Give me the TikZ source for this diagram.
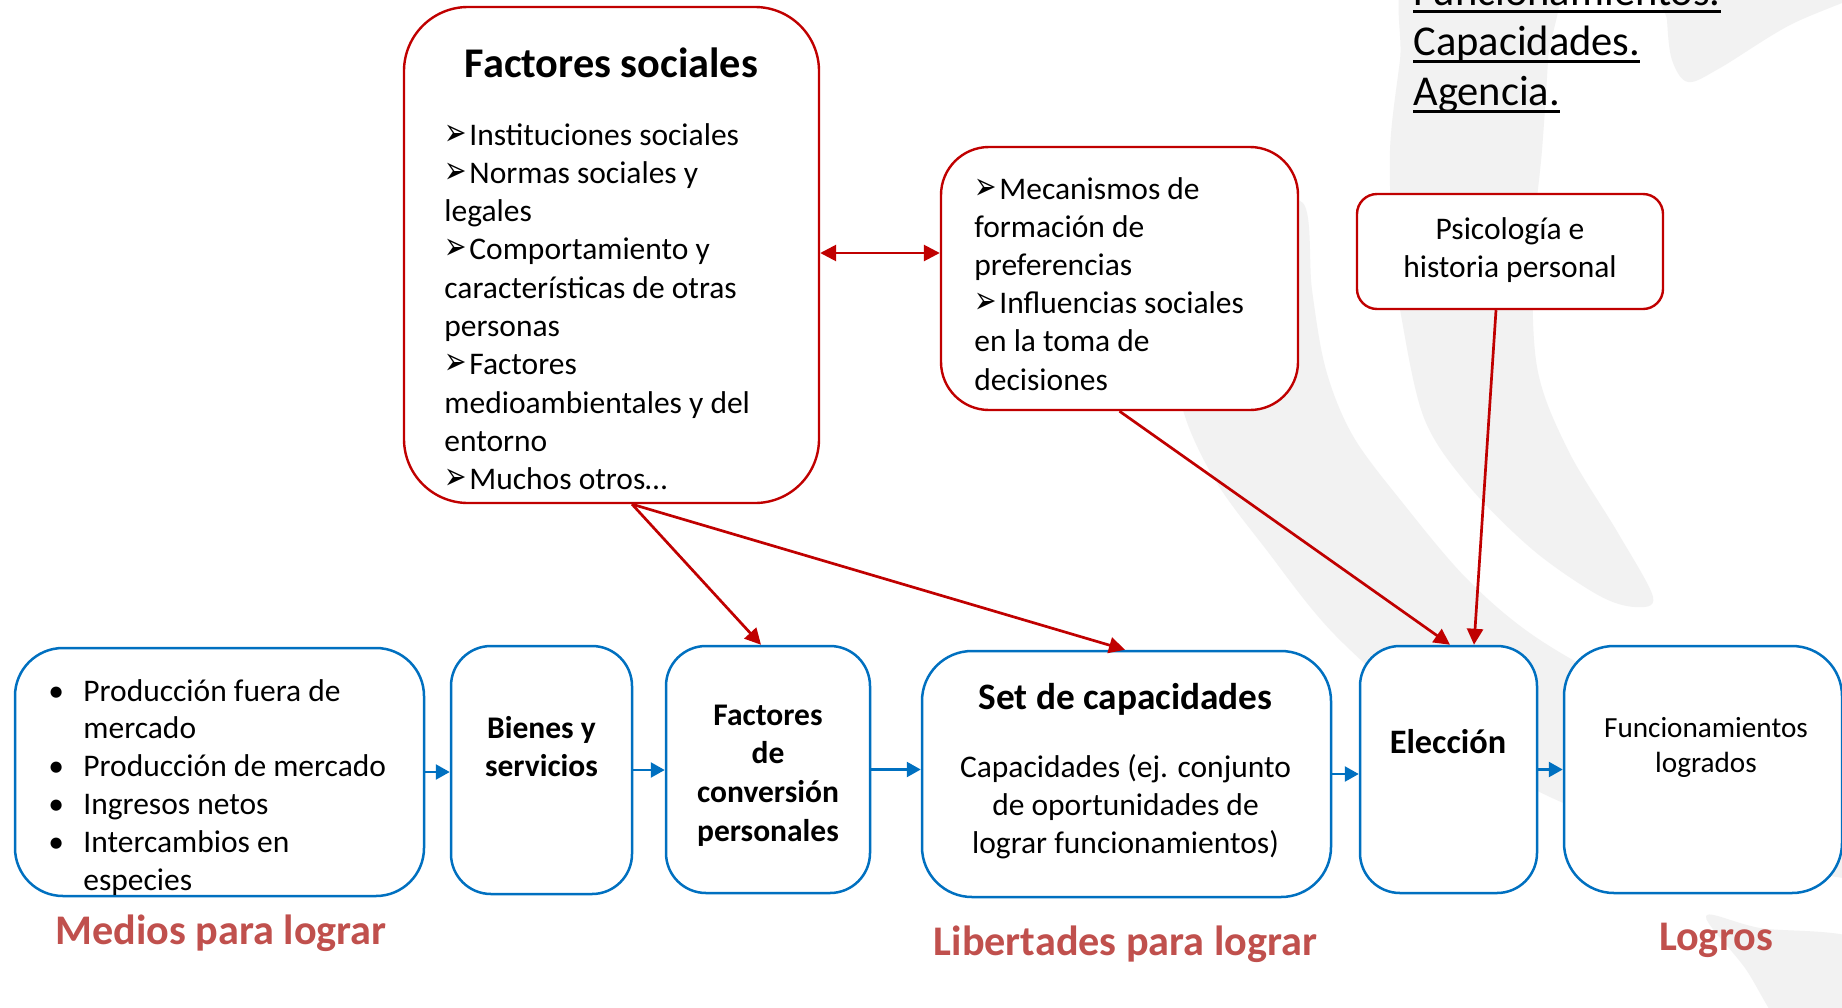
\documentclass[tikz,border=0pt]{standalone}
\usepackage{fontspec}
\setmainfont{Carlito}
\newfontfamily\djv{DejaVu Sans}
\usetikzlibrary{arrows.meta,calc,fit}
\definecolor{boxred}{HTML}{C00000}
\definecolor{boxblue}{HTML}{0070C0}
\definecolor{labred}{HTML}{C0504D}
\definecolor{swoosh}{HTML}{F2F2F2}
\newcommand\fsz[2]{\fontsize{#1}{#2}\selectfont}
\newcommand\arr{\leavevmode\makebox[12.5pt][l]{\resizebox{11.2pt}{10.2pt}{\djv ➢}}}
\newcommand\bul{\leavevmode\llap{\makebox[17.5pt][l]{•}}}
\newcommand\myul[1]{\leavevmode\setbox0\hbox{#1}\rlap{\rule[-4pt]{\wd0}{1.4pt}}\box0}
\begin{document}
\begin{tikzpicture}[x=0.5pt,y=-0.5pt,
  redbox/.style={draw=boxred, line width=1.2pt, fill=white, inner sep=0pt},
  bluebox/.style={draw=boxblue, line width=1.25pt, fill=white, inner sep=0pt},
  redarrow/.style={draw=boxred, line width=1.35pt, -{Triangle[length=8pt,width=8pt]}},
  redboth/.style={draw=boxred, line width=1.35pt, {Triangle[length=8pt,width=8pt]}-{Triangle[length=8pt,width=8pt]}},
  bluearrow/.style={draw=boxblue, line width=1.25pt, -{Triangle[length=7pt,width=7.5pt]}},
  txt/.style={inner sep=0pt, anchor=base west},
  ctxt/.style={inner sep=0pt, anchor=base},
  label/.style={ctxt, text=labred, font=\bfseries\fsz{21.1}{25}},
]
\useasboundingbox (0,0) rectangle (1842,1007);
\fill[white] (0,0) rectangle (1842,1007);
\begin{scope}
\clip (0,0) rectangle (1842,1007);
\fill[swoosh] plot[smooth cycle, tension=0.55] coordinates {(1303,203) (1312,290) (1326,370) (1353,436) (1402,502) (1468,580) (1540,640) (1650,700) (1780,750) (1900,790) (1900,880) (1700,848) (1550,797) (1440,727) (1335,635) (1265,548) (1215,480) (1183,410) (1172,330) (1195,262) (1250,218)};
\fill[swoosh] plot[smooth cycle, tension=0.55] coordinates {(1412,-30) (1400,60) (1390,150) (1393,250) (1401,315) (1424,418) (1468,485) (1533,550) (1598,595) (1635,607) (1653,597) (1618,533) (1568,450) (1537,367) (1533,250) (1542,150) (1548,60) (1552,-30)};
\fill[swoosh] plot[smooth cycle, tension=0.55] coordinates {(1666,-30) (1667,20) (1672,60) (1688,82) (1720,68) (1790,25) (1870,-10) (1870,-30)};
\fill[swoosh] plot[smooth cycle, tension=0.55] coordinates {(1706,916) (1760,928) (1870,945) (1870,1040) (1795,1040) (1745,968)};
\end{scope}

% boxes
\node[redbox, rounded corners=32pt, fit={(404,7) (819,503)}] (fs) {};
\node[redbox, rounded corners=24pt, fit={(941,147) (1298,410)}] (mec) {};
\node[redbox, rounded corners=10pt, fit={(1357,194) (1663,309)}] (psi) {};
\node[bluebox, rounded corners=24pt, fit={(15,648) (424,896)}] (med) {};
\node[bluebox, rounded corners=20pt, fit={(451,646) (632,894)}] (bs) {};
\node[bluebox, rounded corners=20pt, fit={(666,646) (870,893)}] (fc) {};
\node[bluebox, rounded corners=25pt, fit={(922,651) (1331,897)}] (set) {};
\node[bluebox, rounded corners=20pt, fit={(1360,646) (1537,893)}] (el) {};
\node[bluebox, rounded corners=25pt, fit={(1564,646) (1842,893)}] (fun) {};

% red connectors
\draw[redboth] ($(fs.east)+(0,-2)$) -- ($(fs.east -| mec.west)+(0,-2)$);
\draw[redarrow] ($(fs.south)+(20.5,0)$) -- ($(fc.north)+(-7,0)$);
\draw[redarrow] ($(fs.south)+(20.5,0)$) -- ($(set.north)+(-1.5,0)$);
\draw[redarrow] (mec.south) -- ($(el.north)+(1.5,0)$);
\draw[redarrow] ($(psi.south)+(-14,0)$) -- ($(el.north)+(25.5,0)$);

% blue connectors
\draw[bluearrow] (med.east) -- (med.east -| bs.west);
\draw[bluearrow] (bs.east) -- (bs.east -| fc.west);
\draw[bluearrow] (fc.east) -- (fc.east -| set.west);
\draw[bluearrow] (set.east) -- (set.east -| el.west);
\draw[bluearrow] (el.east) -- (el.east -| fun.west);

% texts
\node[ctxt, font=\bfseries\fsz{21.15}{25}] (fst) at (611.5,77) {Factores sociales};
\node[txt] (fsl) at (444,145) {\parbox[t]{200pt}{\fsz{15.75}{19.15}\raggedright
\arr Instituciones sociales\\
\arr Normas sociales y\\
legales\\
\arr Comportamiento y\\
características de otras\\
personas\\
\arr Factores\\
medioambientales y del\\
entorno\\
\arr Muchos otros…}};
\node[txt] (mect) at (974,199) {\parbox[t]{170pt}{\fsz{15.75}{19.1}\raggedright
\arr Mecanismos de\\
formación de\\
preferencias\\
\arr Influencias sociales\\
en la toma de\\
decisiones}};
\node[ctxt] (psit) at (1510,239) {\parbox[t]{150pt}{\centering\fsz{15.75}{19}Psicología e\\ historia personal}};
\node[txt] (medt) at (83,701) {\parbox[t]{180pt}{\fsz{15.75}{18.9}\raggedright
\bul Producción fuera de\\
mercado\\
\bul Producción de mercado\\
\bul Ingresos netos\\
\bul Intercambios en\\
especies}};
\node[ctxt] (bst) at (541.5,738) {\parbox[t]{80pt}{\centering\bfseries\fsz{15.75}{19}Bienes y\\ servicios}};
\node[ctxt] (fct) at (768,725) {\parbox[t]{95pt}{\centering\bfseries\fsz{15.75}{19.35}Factores\\ de\\ conversión\\ personales}};
\node[ctxt, font=\bfseries\fsz{18.65}{22}] (sett) at (1125.5,709) {Set de capacidades};
\node[ctxt] (setb) at (1125.5,777) {\parbox[t]{190pt}{\centering\fsz{15.75}{19.15}Capacidades (ej. conjunto\\ de oportunidades de\\ lograr funcionamientos)}};
\node[ctxt, font=\bfseries\fsz{17.15}{20}] (elt) at (1448,753) {Elección};
\node[ctxt] (funt) at (1706,737) {\parbox[t]{130pt}{\centering\fsz{14.6}{17.8}Funcionamientos\\ logrados}};

\node[label] (lab1) at (221,944) {Medios para lograr};
\node[label] (lab2) at (1125.5,955) {Libertades para lograr};
\node[label] (lab3) at (1716,950) {Logros};

\node[txt] (topt) at (1413,5) {\parbox[t]{200pt}{\fsz{21.25}{25}\myul{Funcionamientos.}\\ \myul{Capacidades.}\\ \myul{Agencia.}}};
\end{tikzpicture}
\end{document}
